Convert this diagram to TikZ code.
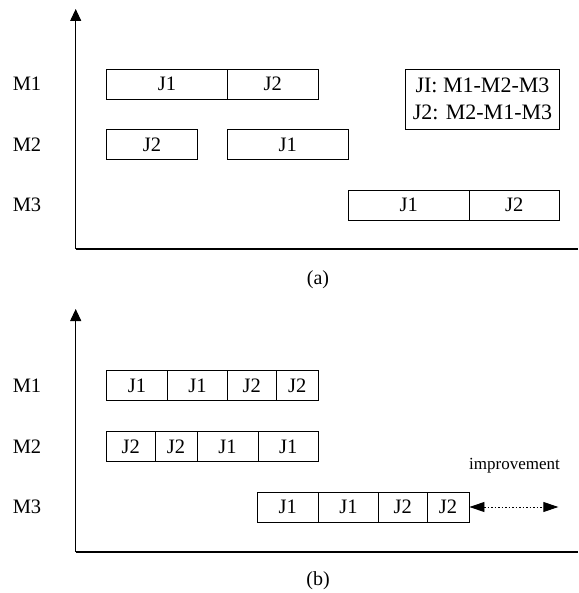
\documentclass[tikz,border=0pt]{standalone}
\usepackage{fontspec}
\setmainfont{Liberation Serif}
\usetikzlibrary{arrows.meta}

% one cell of a Gantt row: name, left x, right x, centre y, label
\newcommand\jobcell[5]{%
  \node[cell, minimum width={(#3-#2)*1pt}] (#1) at ({(#2+#3)/2},#4) {#5};}

\begin{document}
\begin{tikzpicture}[x=1pt, y=-1pt,
    cell/.style={draw, line width=0.9pt, rectangle, inner sep=0pt,
      minimum height=30pt, font=\fontsize{20.5}{24}\selectfont},
    machine/.style={font=\fontsize{20.5}{24}\selectfont},
    caption/.style={font=\fontsize{20}{24}\selectfont},
    axis/.style={line width=1.1pt},
    axisarrow/.style={axis, -{Triangle[width=11pt,length=12pt]}},
    gain/.style={line width=0.9pt, dash pattern=on 1.5pt off 2pt,
      {Triangle[width=10pt,length=15pt]}-{Triangle[width=10pt,length=15pt]}}]
  \useasboundingbox (0,0) rectangle (578,593);

  % ---------- schedule (a) ----------
  \coordinate (oa) at (75.7,249);
  \coordinate (ya) at (75.7,9);
  \coordinate (xa) at (578,249);
  \draw[axisarrow] (oa) -- (ya);
  \draw[axis] (oa) -- (xa);

  \node[machine] (ma1) at (27,84) {M1};
  \node[machine] (ma2) at (27,144.5) {M2};
  \node[machine] (ma3) at (27,205) {M3};

  \jobcell{a11}{106.7}{227.3}{84}{J1}
  \jobcell{a12}{227.3}{318.3}{84}{J2}
  \jobcell{a21}{106.7}{197.3}{144.5}{J2}
  \jobcell{a22}{227.3}{348.3}{144.5}{J1}
  \jobcell{a31}{348.3}{469}{205}{J1}
  \jobcell{a32}{469}{559.3}{205}{J2}

  \node[draw, line width=0.9pt, minimum width=153.6pt, minimum height=60.3pt,
    inner sep=0pt, align=center, font=\fontsize{22}{27}\selectfont]
    (routes) at (482.5,99.2) {JI: M1-M2-M3\\J2: M2-M1-M3};

  \node[caption] (capa) at (318,280) {(a)};

  % ---------- schedule (b) ----------
  \coordinate (ob) at (75.7,552);
  \coordinate (yb) at (75.7,309);
  \coordinate (xb) at (578,552);
  \draw[axisarrow] (ob) -- (yb);
  \draw[axis] (ob) -- (xb);

  \node[machine] (mb1) at (27,385.7) {M1};
  \node[machine] (mb2) at (27,446.5) {M2};
  \node[machine] (mb3) at (27,507) {M3};

  \jobcell{b11}{106.7}{167.3}{385.7}{J1}
  \jobcell{b12}{167.3}{227.7}{385.7}{J1}
  \jobcell{b13}{227.7}{276}{385.7}{J2}
  \jobcell{b14}{276}{318.3}{385.7}{J2}

  \jobcell{b21}{106.7}{155}{446.5}{J2}
  \jobcell{b22}{155}{197}{446.5}{J2}
  \jobcell{b23}{197}{258}{446.5}{J1}
  \jobcell{b24}{258}{318.3}{446.5}{J1}

  \jobcell{b31}{257.3}{318.3}{507}{J1}
  \jobcell{b32}{318.3}{378.7}{507}{J1}
  \jobcell{b33}{378.7}{427}{507}{J2}
  \jobcell{b34}{427}{469}{507}{J2}

  \coordinate (gainend) at (558.3,507);
  \draw[gain] (b34.east) -- (gainend);
  \node[font=\fontsize{17}{20}\selectfont] (gainlabel) at (514.5,466) {improvement};

  \node[caption] (capb) at (318,581) {(b)};
\end{tikzpicture}
\end{document}
